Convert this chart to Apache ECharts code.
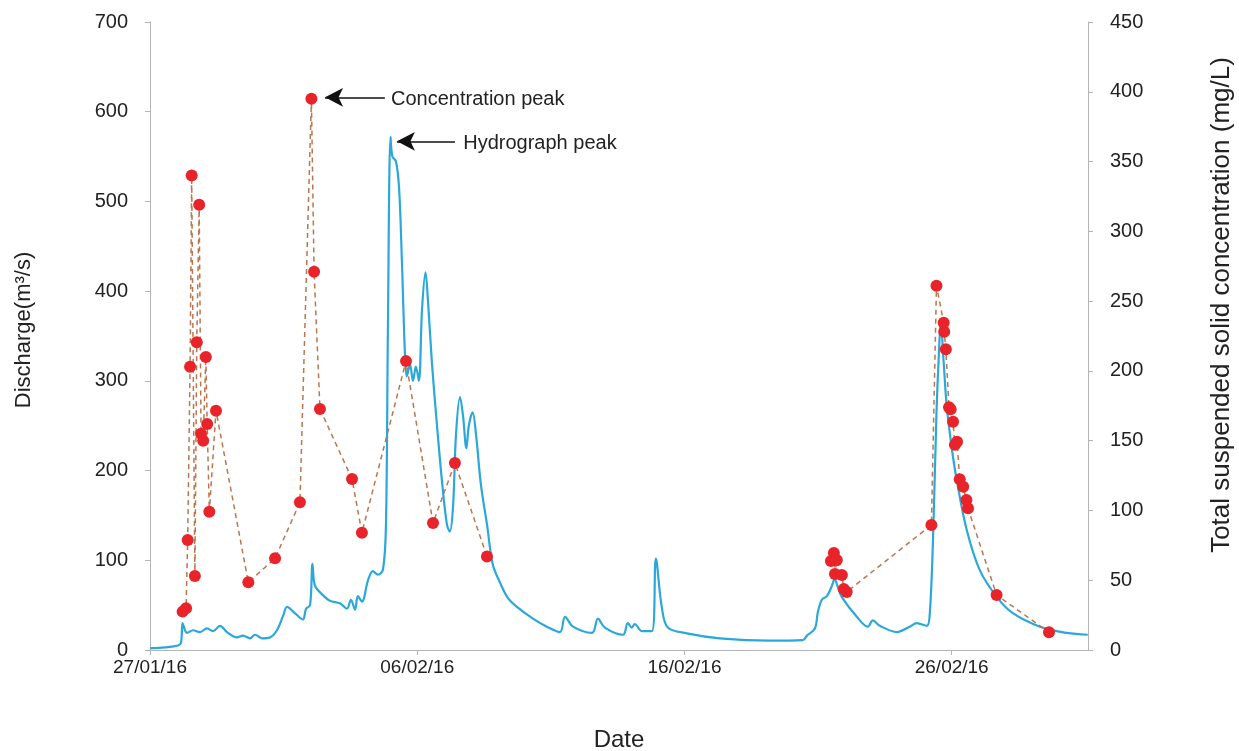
<!DOCTYPE html>
<html>
<head>
<meta charset="utf-8">
<script src="https://cdn.jsdelivr.net/npm/echarts@6/dist/echarts.min.js"></script>
<style>html,body{margin:0;padding:0;background:#fff}#c{width:1239px;height:751px}</style>
</head>
<body>
<div id="c"></div>
<script>
// x values: days since 27/01/16 00:00
var dateTickLabels = ['27/01/16', '06/02/16', '16/02/16', '26/02/16'];

var hydroDays = [0, 0.56, 1.05, 1.16, 1.22, 1.31, 1.38, 1.61, 1.87, 2.13, 2.36, 2.62, 2.88, 3.25, 3.48, 3.74, 3.93, 4.19, 4.49, 4.75,
  4.98, 5.13, 5.42, 5.72, 5.84, 5.99, 6.08, 6.17, 6.44, 6.73, 7.11, 7.37, 7.52, 7.67, 7.78, 7.93, 8.16, 8.34, 8.53, 8.72,
  8.83, 8.90, 9.00, 9.07, 9.20, 9.32, 9.43, 9.54, 9.61, 9.73, 9.84, 9.95, 10.06, 10.18, 10.31, 10.40, 10.55, 10.74, 10.92, 11.11,
  11.22, 11.34, 11.45, 11.60, 11.71, 11.84, 11.93, 12.07, 12.20, 12.38, 12.61, 12.83, 13.10, 13.39, 13.73, 14.33, 14.85, 15.34, 15.53, 15.83,
  16.54, 16.76, 17.02, 17.70, 17.88, 18.03, 18.14, 18.41, 18.78, 18.93, 19.15, 19.38, 20.09, 21.32, 23.19, 24.43, 24.58, 24.88, 24.99, 25.14,
  25.33, 25.51, 25.62, 25.74, 25.89, 26.45, 26.86, 27.05, 27.31, 27.95, 28.43, 28.69, 29.07, 29.18, 29.30, 29.43, 29.52, 29.59, 29.70, 29.82,
  30.04, 30.19, 30.56, 31.05, 31.69, 32.29, 33.30, 34.31, 35.09];
var hydroQ = [2, 3, 5, 8, 30, 22, 19, 22, 20, 24, 21, 27, 20, 14, 16, 13, 17, 13, 14, 22,
  38, 48, 41, 34, 46, 50, 96, 72, 62, 55, 52, 46, 56, 45, 60, 54, 78, 88, 84, 90,
  140, 350, 572, 550, 545, 515, 430, 330, 305, 318, 300, 316, 300, 380, 421, 390, 320, 250, 190, 140,
  132, 160, 240, 282, 262, 225, 250, 265, 240, 185, 140, 95, 75, 58, 48, 35, 26, 20, 37, 26,
  19, 35, 25, 17, 30, 25, 29, 21, 21, 102, 48, 25, 18.6, 13, 10.4, 11, 16, 24, 42, 56,
  60, 71, 79, 70, 59, 37, 26, 33, 27, 20, 26, 30, 27, 41, 123, 264, 330, 365, 320, 270,
  217, 189, 134, 89, 59, 41, 26, 19, 17];

var tssDays = [1.22, 1.35, 1.41, 1.50, 1.56, 1.68, 1.75, 1.84, 1.91, 1.99, 2.09, 2.14, 2.22, 2.47, 3.68, 4.68, 5.61, 6.04, 6.14, 6.36,
  7.56, 7.93, 9.58, 10.59, 11.41, 12.61, 25.48, 25.59, 25.63, 25.70, 25.89, 25.96, 26.07, 29.24, 29.43, 29.70, 29.72, 29.78, 29.90, 29.96,
  30.05, 30.12, 30.20, 30.30, 30.43, 30.55, 30.61, 31.68, 33.64];
var tssConc = [27.5, 29.9, 78.8, 203, 340, 53, 220.5, 319, 155, 150, 210, 162, 99, 171.5, 48.5, 65.7, 105.8, 395, 271, 172.7,
  122.5, 84, 207, 91, 134, 67, 63.8, 69.5, 54.5, 64.5, 53.7, 43.7, 41.6, 89.6, 261, 234.5, 228, 215.5, 174, 172.5,
  163.6, 147, 149.3, 122.3, 117, 107.5, 101.5, 39.4, 12.7];
// sampling campaigns are not joined by the dashed line when separated by more than this many days
var tssMaxGapDays = 5;

var concPeakArrow = {from: [8.79, 396], to: [6.55, 396], text: 'Concentration peak', textAt: [9.02, 396]};
var hydroPeakArrow = {from: [11.41, 567], to: [9.24, 567], text: 'Hydrograph peak', textAt: [11.72, 567]};

function pairs(xs, ys) { return xs.map(function (x, i) { return [x, ys[i]]; }); }
function pairsWithBreaks(xs, ys, gap) {
  var out = [];
  xs.forEach(function (x, i) {
    if (i > 0 && x - xs[i - 1] > gap) out.push([(x + xs[i - 1]) / 2, null]);
    out.push([x, ys[i]]);
  });
  return out;
}

var FONT = 'Liberation Sans, Arial, sans-serif';
var axisLineStyle = {color: '#b4b4b4', width: 1};

var chart = echarts.init(document.getElementById('c'), null, {renderer: 'canvas'});
chart.setOption({
  animation: false,
  backgroundColor: '#ffffff',
  textStyle: {fontFamily: FONT},
  grid: {left: 150, right: 151, top: 22, bottom: 101, containLabel: false, outerBoundsMode: 'none'},
  xAxis: {
    type: 'value', min: 0, max: 35.1, interval: 10,
    name: 'Date', nameLocation: 'middle', nameGap: 78,
    nameTextStyle: {fontSize: 24, color: '#222', fontFamily: FONT},
    axisLine: {show: true, lineStyle: axisLineStyle},
    axisTick: {show: true, length: 5, lineStyle: axisLineStyle},
    axisLabel: {
      fontSize: 19, color: '#222', margin: 8, showMaxLabel: false, fontFamily: FONT,
      formatter: function (v) {
        var k = Math.round(v / 10);
        return Math.abs(v - k * 10) < 1e-6 && dateTickLabels[k] ? dateTickLabels[k] : '';
      }
    },
    splitLine: {show: false}
  },
  yAxis: [{
    type: 'value', min: 0, max: 700, interval: 100, position: 'left',
    name: 'Discharge(m³/s)', nameLocation: 'middle', nameGap: 115, nameRotate: 90,
    nameTextStyle: {fontSize: 22, color: '#222', fontFamily: FONT, padding: [0, 0, 0, 12]},
    axisLine: {show: true, lineStyle: axisLineStyle},
    axisTick: {show: true, length: 5, lineStyle: axisLineStyle},
    axisLabel: {fontSize: 20, color: '#222', margin: 22, fontFamily: FONT},
    splitLine: {show: false}
  }, {
    type: 'value', min: 0, max: 450, interval: 50, position: 'right',
    name: 'Total suspended solid concentration (mg/L)', nameLocation: 'middle', nameGap: 121, nameRotate: 90,
    nameTextStyle: {fontSize: 26, color: '#222', fontFamily: FONT, padding: [0, 0, 0, 62]},
    axisLine: {show: true, lineStyle: axisLineStyle},
    axisTick: {show: true, length: 5, lineStyle: axisLineStyle},
    axisLabel: {fontSize: 20, color: '#222', margin: 22, fontFamily: FONT},
    splitLine: {show: false}
  }],
  series: [{
    name: 'Discharge', type: 'line', yAxisIndex: 0,
    data: pairs(hydroDays, hydroQ),
    showSymbol: false, smooth: 0.35,
    lineStyle: {color: '#2ba8da', width: 2.2},
    itemStyle: {color: '#2ba8da'},
    z: 2,
    markLine: {
      silent: true, symbol: ['none', 'arrow'], symbolSize: [14, 18],
      lineStyle: {color: '#111', width: 1.6, type: 'solid'},
      label: {show: false},
      data: [[{coord: hydroPeakArrow.from}, {coord: hydroPeakArrow.to}]]
    },
    markPoint: {
      silent: true, symbolSize: 0,
      label: {show: true, position: 'right', distance: 0, offset: [0, 2], color: '#222', fontSize: 20, fontFamily: FONT},
      data: [{coord: hydroPeakArrow.textAt, label: {formatter: hydroPeakArrow.text}}]
    }
  }, {
    name: 'TSS', type: 'line', yAxisIndex: 1,
    data: pairsWithBreaks(tssDays, tssConc, tssMaxGapDays),
    connectNulls: false,
    symbol: 'circle', symbolSize: 12, showSymbol: true,
    lineStyle: {color: '#b9764f', width: 1.5, type: [5, 4]},
    itemStyle: {color: '#e8242a'},
    z: 3,
    markLine: {
      silent: true, symbol: ['none', 'arrow'], symbolSize: [14, 18],
      lineStyle: {color: '#111', width: 1.6, type: 'solid'},
      label: {show: false},
      data: [[{coord: concPeakArrow.from}, {coord: concPeakArrow.to}]]
    },
    markPoint: {
      silent: true, symbolSize: 0,
      label: {show: true, position: 'right', distance: 0, offset: [0, 2], color: '#222', fontSize: 20, fontFamily: FONT},
      data: [{coord: concPeakArrow.textAt, label: {formatter: concPeakArrow.text}}]
    }
  }]
});
</script>
</body>
</html>
